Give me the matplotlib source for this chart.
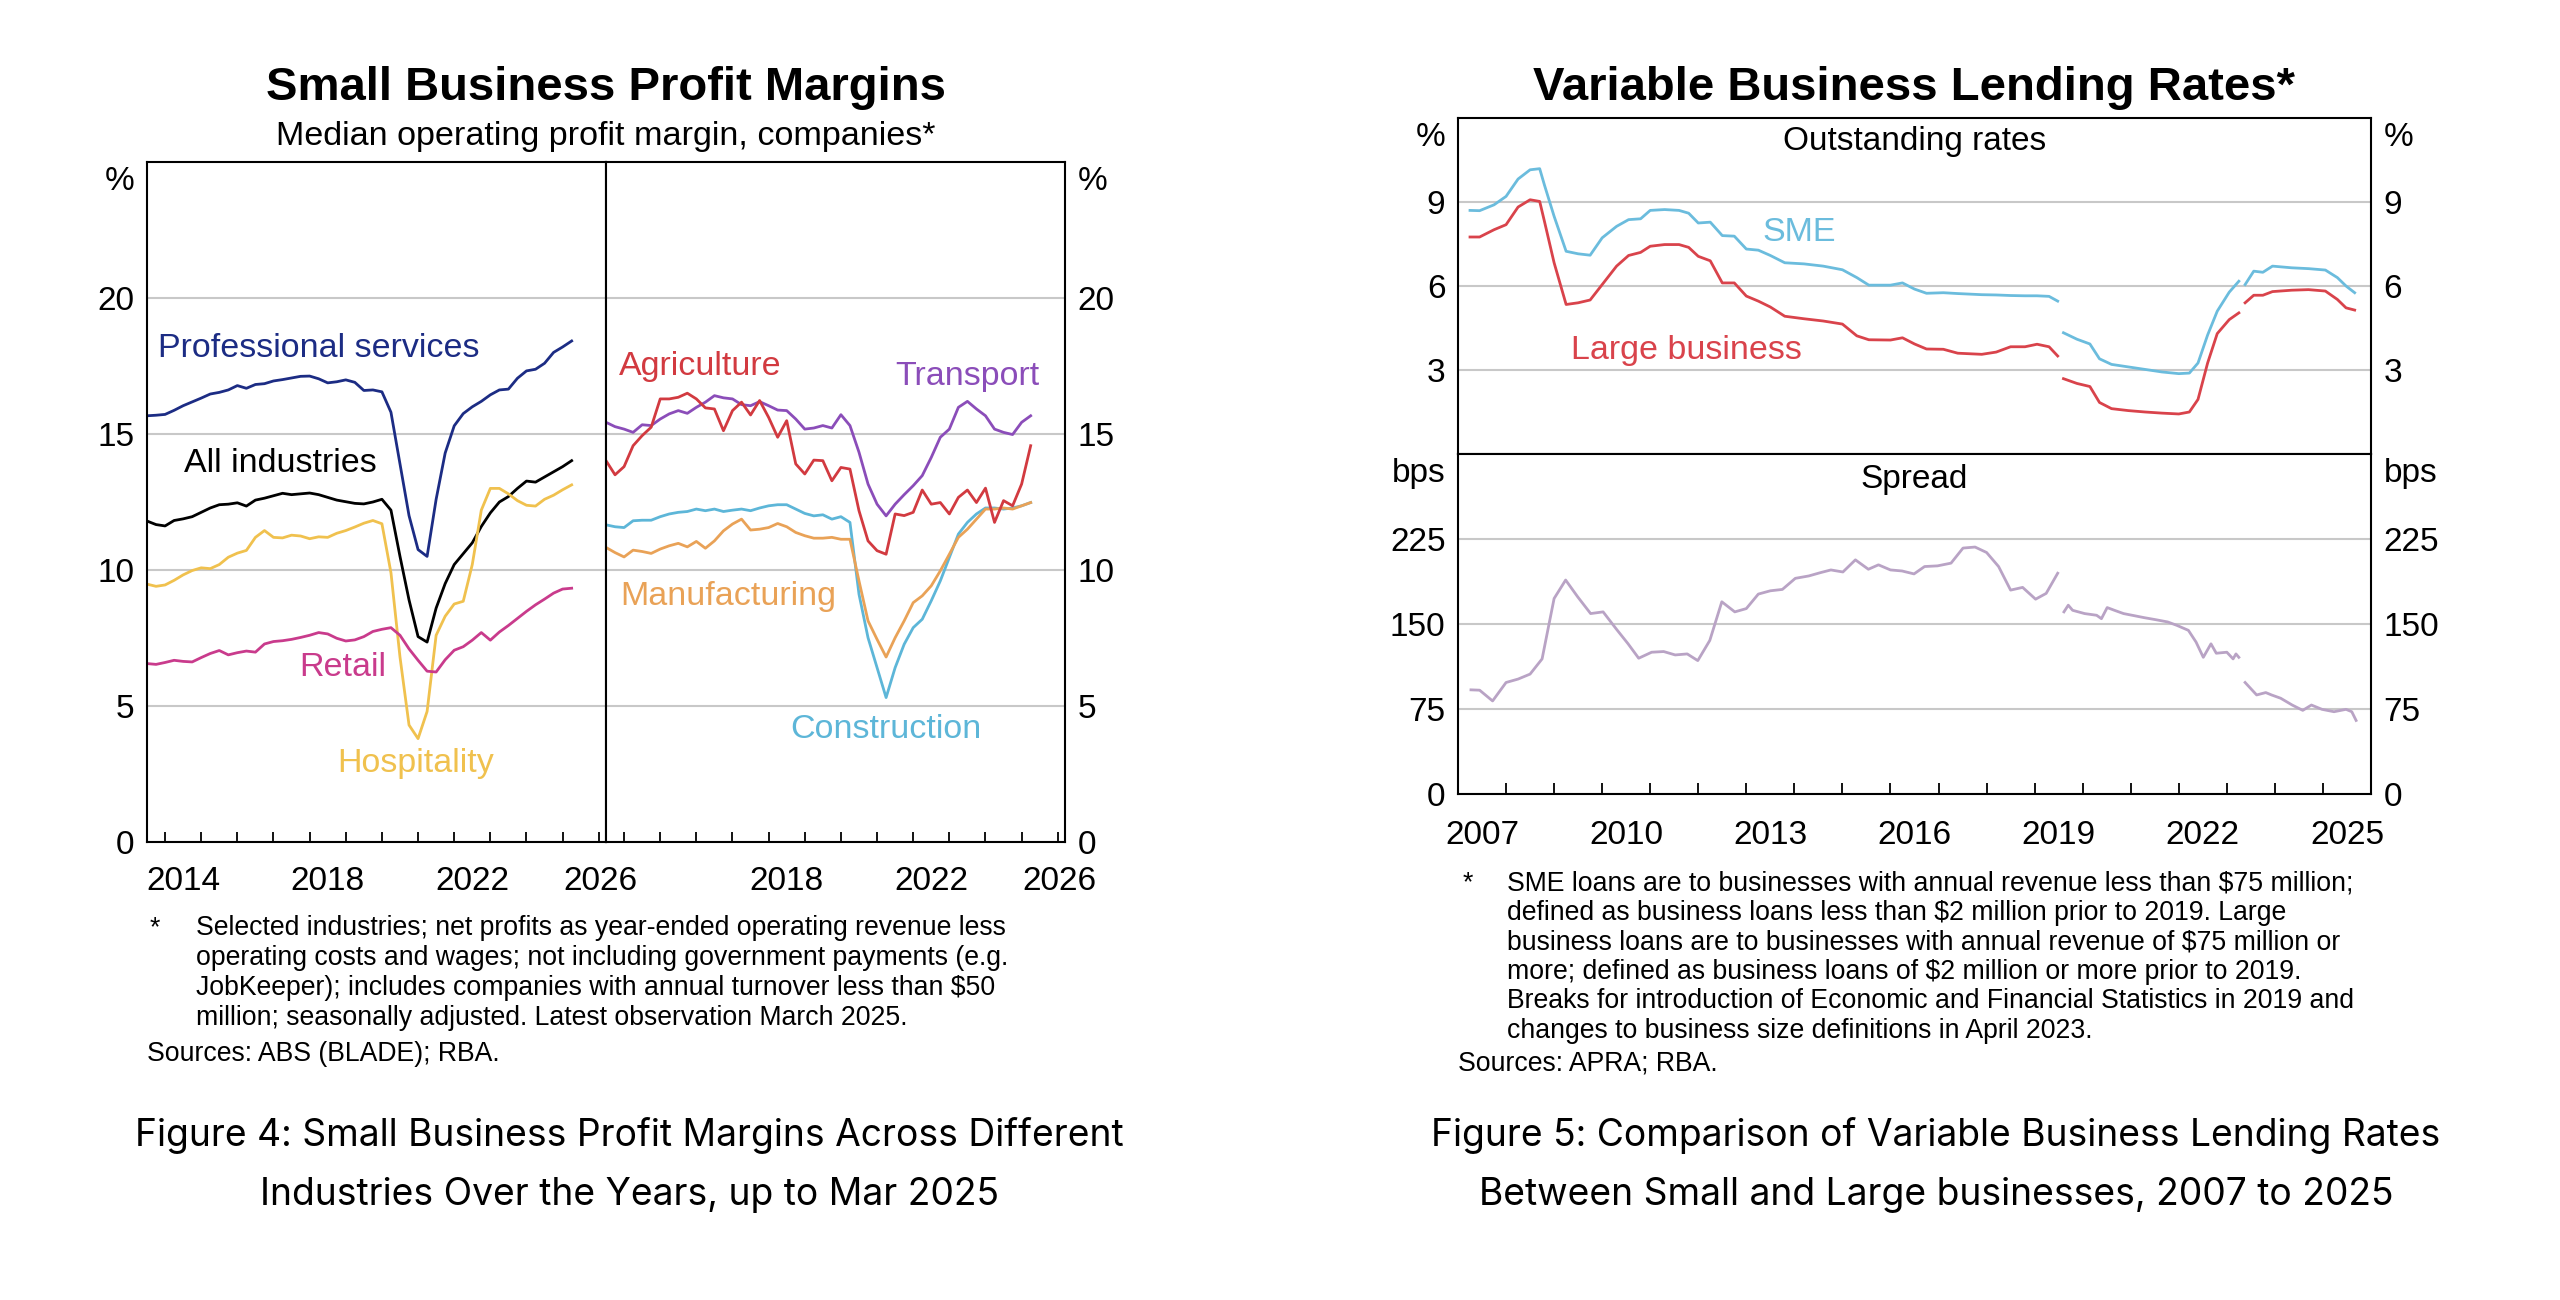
#!/usr/bin/env python3
"""Small business profit margins and variable business lending rates (RBA style)."""
import matplotlib
matplotlib.use("Agg")
import matplotlib.pyplot as plt
import numpy as np

plt.rcParams['font.family'] = ['Liberation Sans', 'DejaVu Sans']

# ---------------- data: profit margins (%, quarterly, Jun 2013 - Mar 2025) ----------------
quarters = np.arange(2013.5, 2025.26, 0.25)

professional = [15.67, 15.69, 15.72, 15.87, 16.04, 16.18, 16.32, 16.47, 16.53, 16.62, 16.78, 16.68,
                16.82, 16.85, 16.95, 17.00, 17.06, 17.12, 17.13, 17.03, 16.88, 16.92, 16.99, 16.90,
                16.60, 16.62, 16.55, 15.80, 13.90, 12.00, 10.75, 10.50, 12.60, 14.30, 15.30, 15.75,
                16.00, 16.20, 16.44, 16.62, 16.65, 17.05, 17.32, 17.38, 17.60, 18.00, 18.20, 18.42]
all_industries = [11.80, 11.67, 11.62, 11.82, 11.88, 11.96, 12.12, 12.28, 12.40, 12.42, 12.47, 12.35,
                  12.57, 12.64, 12.73, 12.82, 12.77, 12.80, 12.83, 12.77, 12.67, 12.57, 12.51, 12.45,
                  12.43, 12.50, 12.60, 12.20, 10.50, 8.90, 7.55, 7.35, 8.60, 9.50, 10.20, 10.60,
                  11.00, 11.60, 12.10, 12.50, 12.70, 13.00, 13.27, 13.23, 13.42, 13.61, 13.80, 14.02]
hospitality = [9.48, 9.40, 9.45, 9.62, 9.82, 9.98, 10.08, 10.05, 10.20, 10.47, 10.62, 10.72,
               11.20, 11.45, 11.20, 11.18, 11.28, 11.25, 11.15, 11.22, 11.20, 11.35, 11.45, 11.58,
               11.72, 11.82, 11.70, 9.90, 6.80, 4.30, 3.80, 4.80, 7.60, 8.30, 8.75, 8.85,
               10.20, 12.20, 13.00, 13.00, 12.80, 12.55, 12.38, 12.35, 12.60, 12.75, 12.95, 13.13]
retail = [6.56, 6.53, 6.60, 6.68, 6.64, 6.62, 6.78, 6.93, 7.04, 6.88, 6.96, 7.02,
          6.98, 7.28, 7.37, 7.40, 7.45, 7.52, 7.60, 7.70, 7.65, 7.49, 7.39, 7.43,
          7.55, 7.74, 7.82, 7.88, 7.60, 7.10, 6.68, 6.28, 6.25, 6.70, 7.05, 7.18,
          7.42, 7.70, 7.42, 7.72, 7.96, 8.22, 8.48, 8.72, 8.93, 9.15, 9.30, 9.33]
agriculture = [14.02, 13.50, 13.80, 14.57, 14.94, 15.25, 16.29, 16.29, 16.35, 16.50, 16.29, 15.96,
               15.92, 15.12, 15.86, 16.17, 15.70, 16.23, 15.61, 14.88, 15.49, 13.90, 13.53, 14.04,
               14.02, 13.28, 13.77, 13.71, 12.18, 11.07, 10.71, 10.58, 12.06, 12.00, 12.12, 12.94,
               12.42, 12.48, 12.06, 12.67, 12.94, 12.48, 13.01, 11.75, 12.55, 12.36, 13.16, 14.57]
transport = [15.43, 15.27, 15.18, 15.06, 15.34, 15.31, 15.55, 15.74, 15.86, 15.76, 15.98, 16.17,
             16.41, 16.33, 16.29, 16.08, 16.04, 16.19, 16.04, 15.88, 15.86, 15.55, 15.18, 15.22,
             15.31, 15.22, 15.71, 15.31, 14.33, 13.16, 12.42, 11.99, 12.42, 12.77, 13.10, 13.47,
             14.14, 14.88, 15.18, 15.98, 16.20, 15.92, 15.67, 15.18, 15.06, 14.98, 15.43, 15.67]
manufacturing = [10.83, 10.64, 10.48, 10.73, 10.68, 10.61, 10.77, 10.89, 10.98, 10.85, 11.05, 10.80,
                 11.07, 11.44, 11.69, 11.87, 11.47, 11.50, 11.56, 11.71, 11.59, 11.38, 11.26, 11.17,
                 11.17, 11.20, 11.13, 11.13, 9.60, 8.13, 7.45, 6.80, 7.51, 8.13, 8.80, 9.05,
                 9.42, 9.97, 10.58, 11.20, 11.50, 11.87, 12.24, 12.24, 12.28, 12.24, 12.36, 12.48]
construction = [11.66, 11.59, 11.56, 11.81, 11.83, 11.83, 11.96, 12.06, 12.12, 12.15, 12.24, 12.18,
                12.24, 12.15, 12.20, 12.24, 12.18, 12.28, 12.36, 12.40, 12.40, 12.24, 12.08, 11.99,
                12.03, 11.87, 11.96, 11.75, 9.11, 7.51, 6.41, 5.31, 6.41, 7.27, 7.88, 8.19,
                8.87, 9.60, 10.46, 11.32, 11.75, 12.06, 12.28, 12.28, 12.24, 12.28, 12.36, 12.48]

# ---------------- data: lending rates (%), NaN marks series breaks ----------------
nan = np.nan
rate_dates = [2007.25, 2007.45, 2007.75, 2008.0, 2008.25, 2008.5, 2008.7, 2008.8, 2009.0, 2009.25,
              2009.5, 2009.75, 2010.0, 2010.3, 2010.55, 2010.8, 2011.0, 2011.3, 2011.6, 2011.8,
              2012.0, 2012.25, 2012.5, 2012.75, 2013.0, 2013.25, 2013.5, 2013.8, 2014.2, 2014.6,
              2015.0, 2015.3, 2015.55, 2016.0, 2016.25, 2016.5, 2016.75, 2017.1, 2017.4, 2017.9,
              2018.2, 2018.5, 2018.8, 2019.05, 2019.3, 2019.48, 2019.54,
              2019.6, 2019.88, 2020.15, 2020.35, 2020.6, 2020.95, 2021.3, 2021.65, 2022.0, 2022.22,
              2022.4, 2022.6, 2022.8, 2023.05, 2023.25, 2023.31,
              2023.38, 2023.56, 2023.75, 2023.95, 2024.35, 2024.7, 2025.05, 2025.3, 2025.48, 2025.66]
sme_rate = [8.70, 8.69, 8.90, 9.20, 9.82, 10.15, 10.19, 9.60, 8.49, 7.24,
            7.15, 7.10, 7.72, 8.13, 8.37, 8.40, 8.70, 8.73, 8.70, 8.60,
            8.25, 8.28, 7.80, 7.78, 7.32, 7.28, 7.09, 6.83, 6.79, 6.71,
            6.58, 6.30, 6.03, 6.03, 6.11, 5.89, 5.74, 5.76, 5.73, 5.69,
            5.68, 5.66, 5.65, 5.65, 5.63, 5.46, nan,
            4.33, 4.10, 3.93, 3.40, 3.20, 3.11, 3.02, 2.93, 2.87, 2.89,
            3.25, 4.25, 5.10, 5.78, 6.17, nan,
            6.05, 6.53, 6.49, 6.71, 6.65, 6.62, 6.57, 6.30, 6.00, 5.76]
large_rate = [7.75, 7.75, 8.01, 8.19, 8.82, 9.08, 9.02, 8.30, 6.83, 5.34,
              5.40, 5.50, 6.05, 6.71, 7.09, 7.20, 7.42, 7.48, 7.48, 7.38,
              7.06, 6.90, 6.11, 6.11, 5.64, 5.46, 5.25, 4.92, 4.83, 4.75,
              4.64, 4.22, 4.08, 4.07, 4.15, 3.93, 3.75, 3.74, 3.60, 3.56,
              3.64, 3.83, 3.83, 3.92, 3.83, 3.50, nan,
              2.69, 2.52, 2.41, 1.84, 1.62, 1.55, 1.50, 1.46, 1.43, 1.50,
              1.95, 3.25, 4.30, 4.80, 5.04, nan,
              5.40, 5.67, 5.67, 5.80, 5.85, 5.87, 5.82, 5.52, 5.22, 5.14]

spread_dates = [2007.27, 2007.45, 2007.72, 2008.0, 2008.25, 2008.5, 2008.75, 2009.0, 2009.24, 2009.49,
                2009.76, 2010.02, 2010.29, 2010.54, 2010.76, 2011.03, 2011.28, 2011.52, 2011.77, 2011.99,
                2012.24, 2012.49, 2012.76, 2013.0, 2013.25, 2013.5, 2013.75, 2014.02, 2014.3, 2014.55,
                2014.76, 2015.01, 2015.27, 2015.54, 2015.75, 2016.0, 2016.24, 2016.49, 2016.71, 2016.98,
                2017.26, 2017.51, 2017.76, 2018.0, 2018.25, 2018.5, 2018.75, 2019.02, 2019.24, 2019.48,
                2019.55,
                2019.61, 2019.7, 2019.79, 2020.04, 2020.29, 2020.39, 2020.51, 2020.66, 2020.85, 2021.03,
                2021.28, 2021.52, 2021.77, 2021.96, 2022.2, 2022.36, 2022.51, 2022.67, 2022.78, 2023.0,
                2023.13, 2023.19, 2023.25, 2023.31,
                2023.38, 2023.62, 2023.81, 2023.93, 2024.12, 2024.36, 2024.58, 2024.76, 2024.98, 2025.23,
                2025.48, 2025.6, 2025.69]
spread_bps = [91.9, 91.6, 82.1, 98.4, 101.4, 105.8, 119.2, 172.5, 188.8, 174.0,
              159.2, 160.7, 145.8, 132.5, 119.8, 125.1, 125.7, 122.7, 123.6, 117.7,
              135.5, 169.6, 160.7, 163.6, 176.4, 179.3, 180.5, 190.3, 192.4, 195.4,
              197.7, 195.9, 206.6, 198.3, 202.2, 197.7, 196.8, 194.2, 200.7, 201.3,
              203.7, 217.0, 217.9, 213.1, 200.7, 179.9, 182.3, 171.9, 177.0, 194.8,
              nan,
              160.7, 166.6, 162.1, 159.2, 157.7, 154.7, 164.5, 162.1, 159.2, 157.7,
              155.6, 153.8, 151.8, 148.8, 144.4, 134.0, 120.6, 132.5, 124.2, 125.1,
              119.2, 123.6, 120.6, nan,
              98.4, 87.4, 89.5, 87.4, 84.5, 78.5, 73.8, 78.5, 74.7, 72.6,
              74.7, 72.6, 64.9]

# ---------------- styling ----------------
W, H = 2560, 1300
GRID = '#c8c8c8'
LW = 2.0
FS_TICK = 24
FS_NOTE = 19.2
FS_CAP = 26.8
CAP_FONT = ['Inter', 'DejaVu Sans']


def rect(x0, y0, x1, y1):
    """Pixel box (top-left origin) to figure fraction rect."""
    return [x0 / W, 1 - y1 / H, (x1 - x0) / W, (y1 - y0) / H]


def ftext(px, py, s, **kw):
    fig.text(px / W, 1 - py / H, s, **kw)


def style_axes(ax, left_labels, right_labels):
    for sp in ax.spines.values():
        sp.set_linewidth(1.5)
        sp.set_color('black')
    ax.yaxis.grid(True, color=GRID, lw=1.5)
    ax.set_axisbelow(True)
    ax.tick_params(axis='y', length=0, labelsize=FS_TICK, pad=9,
                   labelleft=left_labels, labelright=right_labels)
    ax.tick_params(axis='x', which='major', length=0, labelsize=FS_TICK, pad=17)
    ax.tick_params(axis='x', which='minor', direction='in', length=7, width=1.3)


def unit_label(ax, s, side):
    if side == 'left':
        ax.annotate(s, xy=(0, 1), xycoords='axes fraction', xytext=(-9, -14),
                    textcoords='offset points', ha='right', va='center', fontsize=FS_TICK)
    else:
        ax.annotate(s, xy=(1, 1), xycoords='axes fraction', xytext=(9, -14),
                    textcoords='offset points', ha='left', va='center', fontsize=FS_TICK)


fig = plt.figure(figsize=(W / 100, H / 100), dpi=100)

# ================= Figure 4: profit margins =================
axA = fig.add_axes(rect(147, 162, 606, 842))
axB = fig.add_axes(rect(606, 162, 1065, 842))

for ax in (axA, axB):
    ax.set_xlim(2013.5, 2026.2)
    ax.set_ylim(0, 25)
    ax.set_yticks([0, 5, 10, 15, 20])
    ax.set_xticks(np.arange(2014, 2027), minor=True)

axA.set_xticks([2014.5, 2018.5, 2022.5, 2026.05])
axA.set_xticklabels(['2014', '2018', '2022', '2026'])
axB.set_xticks([2018.5, 2022.5, 2026.05])
axB.set_xticklabels(['2018', '2022', '2026'])
style_axes(axA, True, False)
style_axes(axB, False, True)
unit_label(axA, '%', 'left')
unit_label(axB, '%', 'right')

left_series = [
    (professional, '#1c2c84', 'Professional services', 2013.8, 18.15, 'left'),
    (all_industries, 'black', 'All industries', 2014.52, 13.9, 'left'),
    (hospitality, '#f0c14e', 'Hospitality', 2020.94, 2.87, 'center'),
    (retail, '#c93b8c', 'Retail', 2018.92, 6.4, 'center'),
]
for vals, col, name, tx, ty, ha in left_series:
    axA.plot(quarters, vals, color=col, lw=LW)
    axA.text(tx, ty, name, color=col, fontsize=24.5, ha=ha, va='center')

right_series = [
    (construction, '#5db6d8', 'Construction', 2018.59, 4.12),
    (manufacturing, '#e9a257', 'Manufacturing', 2013.89, 9.04),
    (transport, '#8b4db9', 'Transport', 2021.5, 17.13),
    (agriculture, '#d23a40', 'Agriculture', 2013.86, 17.5),
]
for vals, col, name, tx, ty in right_series:
    axB.plot(quarters, vals, color=col, lw=LW)
    axB.text(tx, ty, name, color=col, fontsize=24.5, ha='left', va='center')

ftext(606, 88, 'Small Business Profit Margins', fontsize=34, fontweight='bold', ha='center', va='center')
ftext(606, 137, 'Median operating profit margin, companies*', fontsize=24.6, ha='center', va='center')

note4 = ['Selected industries; net profits as year-ended operating revenue less',
         'operating costs and wages; not including government payments (e.g.',
         'JobKeeper); includes companies with annual turnover less than \\$50',
         'million; seasonally adjusted. Latest observation March 2025.']
ftext(150, 928, '*', fontsize=FS_NOTE, ha='left', va='center')
for i, line in enumerate(note4):
    ftext(196, 928 + 30 * i, line, fontsize=FS_NOTE, ha='left', va='center')
ftext(147, 1054, 'Sources: ABS (BLADE); RBA.', fontsize=FS_NOTE, ha='left', va='center')

ftext(629, 1136, 'Figure 4: Small Business Profit Margins Across Different',
      fontsize=FS_CAP, family=CAP_FONT, ha='center', va='center')
ftext(629, 1195, 'Industries Over the Years, up to Mar 2025',
      fontsize=FS_CAP, family=CAP_FONT, ha='center', va='center')

# ================= Figure 5: lending rates =================
axT = fig.add_axes(rect(1458, 118, 2371, 454))
axS = fig.add_axes(rect(1458, 454, 2371, 794))

for ax in (axT, axS):
    ax.set_xlim(2007, 2026)

axT.set_ylim(0, 12)
axT.set_yticks([3, 6, 9])
axT.set_xticks([])
style_axes(axT, True, True)
unit_label(axT, '%', 'left')
unit_label(axT, '%', 'right')

axS.set_ylim(0, 300)
axS.set_yticks([0, 75, 150, 225])
axS.set_xticks(np.arange(2007.5, 2026, 3))
axS.set_xticklabels([str(y) for y in range(2007, 2026, 3)])
axS.set_xticks(np.arange(2008, 2026), minor=True)
style_axes(axS, True, True)
axS.tick_params(axis='x', which='major', pad=19)
axS.tick_params(axis='x', which='minor', length=8)
unit_label(axS, 'bps', 'left')
unit_label(axS, 'bps', 'right')

axT.plot(rate_dates, sme_rate, color='#6bbcdd', lw=LW)
axT.plot(rate_dates, large_rate, color='#d9434b', lw=LW)
axT.text(2014.1, 7.9, 'SME', color='#6bbcdd', fontsize=24.5, ha='center', va='center')
axT.text(2009.35, 3.7, 'Large business', color='#d9434b', fontsize=24.5, ha='left', va='center')
axT.text(0.5, 0.93, 'Outstanding rates', transform=axT.transAxes, fontsize=24, ha='center', va='center')

axS.plot(spread_dates, spread_bps, color='#b9a3c5', lw=LW)
axS.text(0.5, 0.925, 'Spread', transform=axS.transAxes, fontsize=24, ha='center', va='center')

ftext(1914, 88, 'Variable Business Lending Rates*', fontsize=34, fontweight='bold', ha='center', va='center')

note5 = ['SME loans are to businesses with annual revenue less than \\$75 million;',
         'defined as business loans less than \\$2 million prior to 2019. Large',
         'business loans are to businesses with annual revenue of \\$75 million or',
         'more; defined as business loans of \\$2 million or more prior to 2019.',
         'Breaks for introduction of Economic and Financial Statistics in 2019 and',
         'changes to business size definitions in April 2023.']
ftext(1463, 883, '*', fontsize=FS_NOTE, ha='left', va='center')
for i, line in enumerate(note5):
    ftext(1507, 883 + 29.6 * i, line, fontsize=FS_NOTE, ha='left', va='center')
ftext(1458, 1064, 'Sources: APRA; RBA.', fontsize=FS_NOTE, ha='left', va='center')

ftext(1936, 1136, 'Figure 5: Comparison of Variable Business Lending Rates',
      fontsize=FS_CAP, family=CAP_FONT, ha='center', va='center')
ftext(1936, 1195, 'Between Small and Large businesses, 2007 to 2025',
      fontsize=FS_CAP, family=CAP_FONT, ha='center', va='center')

fig.savefig('out.png', dpi=100, facecolor='white')
plt.close(fig)
print("Saved: out.png")
